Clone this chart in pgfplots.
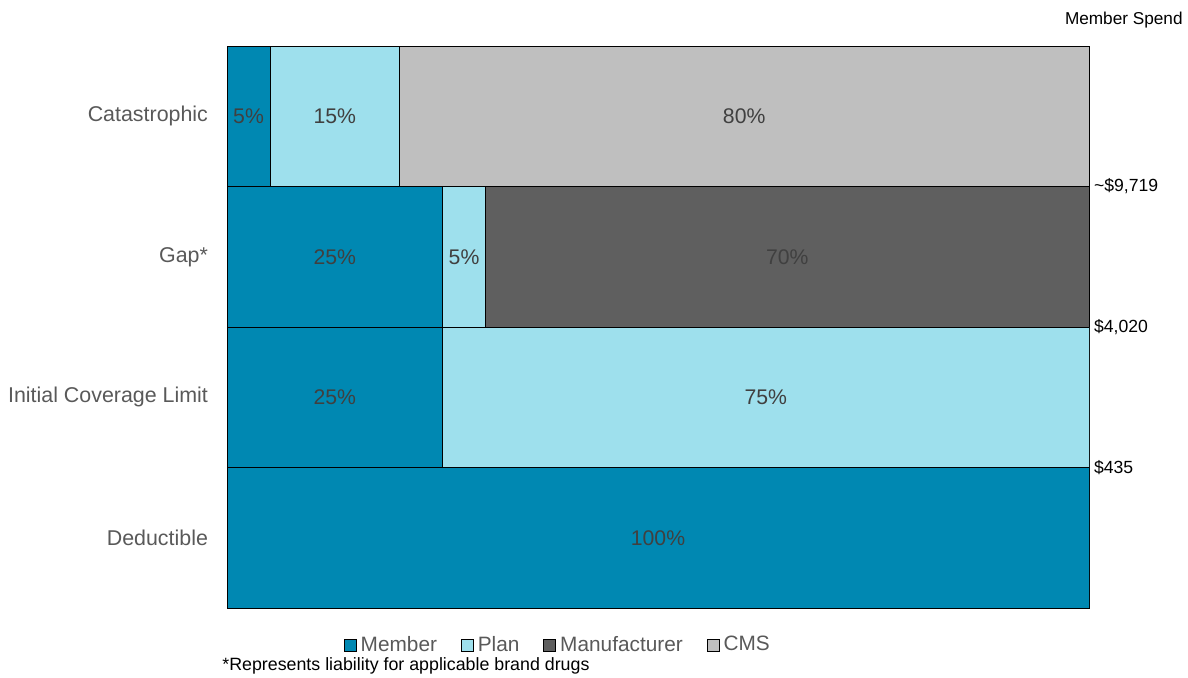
\documentclass[border=0pt]{standalone}
\usepackage{pgfplots}
\pgfplotsset{compat=1.18}
\usepackage{fontspec}
\setmainfont{Liberation Sans}
\definecolor{member}{HTML}{0088B2}
\definecolor{plan}{HTML}{9EE0ED}
\definecolor{manu}{HTML}{5F5F5F}
\definecolor{cms}{HTML}{BFBFBF}
\definecolor{lbl}{HTML}{595959}
\definecolor{barlbl}{HTML}{404040}
\begin{document}
\begin{tikzpicture}[x=1pt,y=1pt]
\path[use as bounding box] (0,0) rectangle (594,338.5);
\begin{axis}[
  at={(113.5pt,34.5pt)}, anchor=south west,
  scale only axis, width=431pt, height=281pt,
  xbar stacked, bar width=1,
  xmin=0, xmax=100, ymin=-0.5, ymax=3.5,
  xtick=\empty,
  ytick={0,1,2,3},
  yticklabels={Deductible,Initial Coverage Limit,Gap*,Catastrophic},
  major tick length=0pt,
  yticklabel style={font=\fontsize{10.7}{12}\selectfont, text=lbl, xshift=-6pt},
  axis line style={black, line width=0.5pt},
  every axis plot/.append style={draw=black, line width=0.5pt},
  legend image code/.code={\draw[#1, line width=0.4pt] (0pt,-3pt) rectangle (6pt,3pt);},
  legend style={at={(0.385,-0.066)}, anchor=center, draw=none, fill=none,
    legend columns=4, font=\fontsize{10.4}{12}\selectfont, text=lbl,
    /tikz/every even column/.append style={column sep=10pt},
    legend cell align=left, inner sep=0pt},
]
\addplot[fill=member] coordinates {(100,0) (25,1) (25,2) (5,3)};
\addplot[fill=plan] coordinates {(0,0) (75,1) (5,2) (15,3)};
\addplot[fill=manu] coordinates {(0,0) (0,1) (70,2) (0,3)};
\addplot[fill=cms] coordinates {(0,0) (0,1) (0,2) (80,3)};
\legend{Member,Plan,Manufacturer,CMS}
\end{axis}
\begin{axis}[
  at={(113.5pt,34.5pt)}, anchor=south west,
  scale only axis, width=431pt, height=281pt,
  xmin=0, xmax=100, ymin=-0.5, ymax=3.5,
  axis x line=none,
  axis y line*=right,
  y axis line style={draw=none},
  major tick length=0pt,
  ytick={0.5,1.5,2.5},
  yticklabels={{\$435},{\$4,020},{\textasciitilde\$9,719}},
  yticklabel style={font=\fontsize{8.8}{10}\selectfont, text=black, xshift=-1pt},
]
\addplot[draw=none, mark=none, nodes near coords, point meta=explicit symbolic,
  every node near coord/.style={anchor=center, font=\fontsize{10.6}{12}\selectfont, text=barlbl}]
  coordinates {(50,0) [100\%] (12.5,1) [25\%] (62.5,1) [75\%]
               (12.5,2) [25\%] (27.5,2) [5\%] (65,2) [70\%]
               (2.5,3) [5\%] (12.5,3) [15\%] (60,3) [80\%]};
\end{axis}
\node[anchor=east, font=\fontsize{8.6}{10}\selectfont, inner sep=0pt] at (591.5,328.5) {Member Spend};
\node[anchor=west, font=\fontsize{8.9}{10}\selectfont, inner sep=0pt] at (111,5.5) {*Represents liability for applicable brand drugs};
\end{tikzpicture}
\end{document}
